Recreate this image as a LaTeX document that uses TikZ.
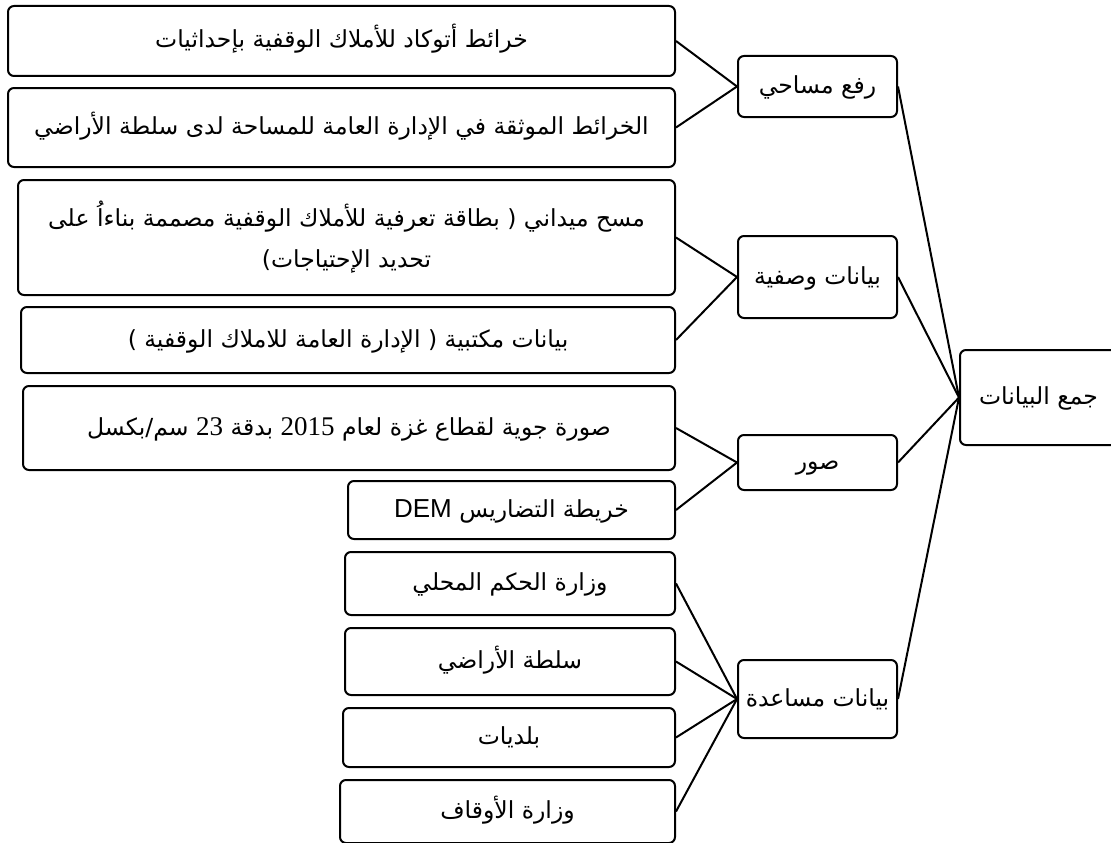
\documentclass[tikz,border=0pt]{standalone}
\usepackage{fontspec}
\setmainfont{DejaVu Sans}
\newfontfamily\ar[Script=Arabic]{DejaVu Sans}
\newfontfamily\numfont{Liberation Serif}
\newfontfamily\latfont{Liberation Sans}
\newfontfamily\parfont{DejaVu Sans}
\TeXXeTstate=1
\newcommand\rl[1]{\beginR#1\endR}
\newcommand\num[1]{{\numfont\fontsize{27}{30}\selectfont\beginL#1\endL}}
\newcommand\pp[1]{{\parfont#1}}
\begin{document}
\begin{tikzpicture}[x=1pt,y=-1pt,
  box/.style={draw, line width=2pt, rounded corners=6pt, inner sep=0pt,
    align=center, font=\ar\fontsize{23.5}{41}\selectfont},
  oneline/.style={box, text height=20pt, text depth=6pt},
  link/.style={line width=2pt}]
\useasboundingbox (0,0) rectangle (1111,843);

% sources (left column)
\node[oneline, minimum width=667pt, minimum height=70pt] (l1) at (341.5,41)
  {\rl{خرائط أتوكاد للأملاك الوقفية بإحداثيات}};
\node[oneline, minimum width=667pt, minimum height=79pt] (l2) at (341.5,127.5)
  {\rl{الخرائط الموثقة في الإدارة العامة للمساحة لدى سلطة الأراضي}};
\node[box, minimum width=657pt, minimum height=115pt] (l3) at (346.5,237.5)
  {\rl{مسح ميداني \pp{)} بطاقة تعرفية للأملاك الوقفية مصممة بناءاُ على}\\
   \rl{تحديد الإحتياجات\pp{(}}};
\node[oneline, minimum width=654pt, minimum height=66pt] (l4) at (348,340)
  {\rl{بيانات مكتبية \pp{)} الإدارة العامة للاملاك الوقفية \pp{(}}};
\node[oneline, minimum width=652pt, minimum height=84pt] (l5) at (349,428)
  {\rl{صورة جوية لقطاع غزة لعام \num{2015} بدقة \num{23} سم/بكسل}};
\node[oneline, minimum width=327pt, minimum height=58pt] (l6) at (511.5,510)
  {\rl{خريطة التضاريس {\latfont\fontsize{26}{30}\selectfont\beginL DEM\endL}}};
\node[oneline, minimum width=330pt, minimum height=63pt] (l7) at (510,583.5)
  {\rl{وزارة الحكم المحلي}};
\node[oneline, minimum width=330pt, minimum height=67pt] (l8) at (510,661.5)
  {\rl{سلطة الأراضي}};
\node[oneline, minimum width=332pt, minimum height=59pt] (l9) at (509,737.5)
  {\rl{بلديات}};
\node[oneline, minimum width=335pt, minimum height=63pt] (l10) at (507.5,811.5)
  {\rl{وزارة الأوقاف}};

% categories (middle column)
\node[oneline, minimum width=159pt, minimum height=61pt] (m1) at (817.5,86.5)
  {\rl{رفع مساحي}};
\node[oneline, minimum width=159pt, minimum height=82pt] (m2) at (817.5,277)
  {\rl{بيانات وصفية}};
\node[oneline, minimum width=159pt, minimum height=55pt] (m3) at (817.5,462.5)
  {\rl{صور}};
\node[oneline, minimum width=159pt, minimum height=78pt] (m4) at (817.5,699)
  {\rl{بيانات مساعدة}};

% root
\node[oneline, minimum width=157pt, minimum height=95pt] (root) at (1038.5,397.5)
  {\rl{جمع البيانات}};

% connectors
\draw[link] (l1.east) -- (m1.west);
\draw[link] (l2.east) -- (m1.west);
\draw[link] (l3.east) -- (m2.west);
\draw[link] (l4.east) -- (m2.west);
\draw[link] (l5.east) -- (m3.west);
\draw[link] (l6.east) -- (m3.west);
\draw[link] (l7.east) -- (m4.west);
\draw[link] (l8.east) -- (m4.west);
\draw[link] (l9.east) -- (m4.west);
\draw[link] (l10.east) -- (m4.west);
\draw[link] (m1.east) -- (root.west);
\draw[link] (m2.east) -- (root.west);
\draw[link] (m3.east) -- (root.west);
\draw[link] (m4.east) -- (root.west);
\end{tikzpicture}
\end{document}
